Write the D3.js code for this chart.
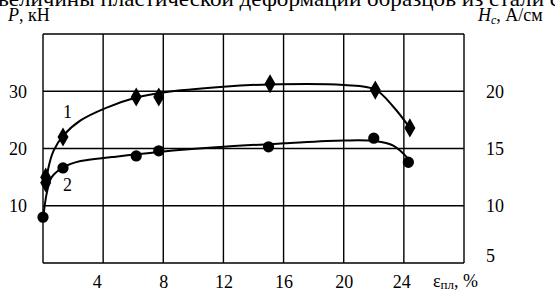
<!DOCTYPE html>
<html>
<head>
<meta charset="utf-8">
<script src="https://cdn.jsdelivr.net/npm/d3@7"></script>
<style>
  body { margin: 0; background: #fff; }
</style>
</head>
<body>
<div id="chart"></div>
<script>
/* DATA */
// strain, %
const xTicks = [4, 8, 12, 16, 20, 24];
const pTicks = [10, 20, 30];
const hTicks = [5, 10, 15, 20];

// curve 1 markers (x = strain %, y = P, kN)
const c1X = [0.18, 0.18, 1.33, 6.2, 7.7, 15.1, 22.1, 24.4];
const c1Y = [15.0, 14.0, 22.0, 29.0, 29.0, 31.3, 30.2, 23.6];
// curve 2 markers
const c2X = [0, 1.33, 6.2, 7.7, 15.0, 22.0, 24.3];
const c2Y = [8.0, 16.6, 18.7, 19.6, 20.3, 21.8, 17.6];

// smooth fitted lines as drawn in the picture
const line1X = [0.2, 0.35, 0.7, 1.33, 2.5, 4.2, 6.2, 8.0, 12, 15.1, 20, 22.1, 23.3, 24.4];
const line1Y = [13.5, 16.5, 19.6, 22.2, 24.9, 27.1, 28.9, 29.8, 30.8, 31.2, 31.1, 30.3, 27.3, 23.6];
const line2X = [0.02, 0.25, 0.58, 1.35, 2.5, 4.6, 7.7, 12, 16, 20, 22.1, 23.3, 24.3];
const line2Y = [8.0, 12.2, 15.0, 16.7, 17.8, 18.5, 19.4, 20.3, 20.9, 21.4, 21.3, 20.5, 18.2];

/* CONSTANTS */
const width = 555, height = 295;
const margin = { top: 34, bottom: 32, left: 43, right: 91 };
const serif = "\"Liberation Serif\"";
const fs = 18;

const svg = d3.select("#chart").append("svg")
  .attr("width", width)
  .attr("height", height)
  .style("display", "block");

const xScale = d3.scaleLinear().domain([0, 28])
  .range([margin.left, width - margin.right]);
const yScale = d3.scaleLinear().domain([0, 40])
  .range([height - margin.bottom, margin.top]);
const hScale = d3.scaleLinear().domain([5, 25])
  .range([height - margin.bottom, margin.top]);

// title line cut off at the top
svg.append("text")
  .attr("x", -2).attr("y", 6)
  .attr("font-size", 21)
  .attr("textLength", 562)
  .attr("lengthAdjust", "spacingAndGlyphs")
  .text("величины пластической деформации образцов из стали с");

// grid
const grid = svg.append("g").attr("stroke", "#000").attr("stroke-width", 1.4);
grid.selectAll("line.v")
  .data(d3.range(0, 29, 4))
  .join("line")
  .attr("class", "v")
  .attr("x1", d => xScale(d)).attr("x2", d => xScale(d))
  .attr("y1", yScale(40)).attr("y2", yScale(0));
grid.selectAll("line.h")
  .data(d3.range(0, 41, 10))
  .join("line")
  .attr("class", "h")
  .attr("x1", xScale(0)).attr("x2", xScale(28))
  .attr("y1", d => yScale(d)).attr("y2", d => yScale(d));

// x tick labels
const xAxis = svg.append("g")
  .attr("transform", `translate(0,${yScale(0)})`)
  .call(d3.axisBottom(xScale).tickValues(xTicks).tickSize(0).tickPadding(12));
xAxis.attr("font-size", fs);
xAxis.select(".domain").remove();
xAxis.selectAll("text").attr("fill", "#000")
  .attr("dx", d => d === 4 ? "-0.35em" : d === 24 ? "-0.15em" : 0);

// left axis labels
const yAxis = svg.append("g")
  .attr("transform", `translate(${xScale(0)},0)`)
  .call(d3.axisLeft(yScale).tickValues(pTicks).tickSize(0).tickPadding(16));
yAxis.attr("font-size", fs);
yAxis.select(".domain").remove();
yAxis.selectAll("text").attr("fill", "#000");

// right axis labels
const hAxis = svg.append("g")
  .attr("transform", `translate(${xScale(28)},0)`)
  .call(d3.axisRight(hScale).tickValues(hTicks).tickSize(0).tickPadding(22));
hAxis.attr("font-size", fs);
hAxis.select(".domain").remove();
hAxis.selectAll("text").attr("fill", "#000")
  .attr("dy", d => d === 5 ? "-0.1em" : "0.32em");

// axis titles
const pTitle = svg.append("text").attr("x", 8).attr("y", 21).attr("font-size", fs);
pTitle.append("tspan").attr("font-style", "italic").text("P");
pTitle.append("tspan").text(", кН");

const hTitle = svg.append("text").attr("x", 478).attr("y", 21).attr("font-size", fs);
hTitle.append("tspan").attr("font-style", "italic").text("H");
hTitle.append("tspan").attr("font-style", "italic").attr("font-size", 12).attr("dy", 3).text("с");
hTitle.append("tspan").attr("dy", -3).text(", А/см");

const xTitle = svg.append("text").attr("x", 433).attr("y", 287).attr("font-size", fs);
xTitle.append("tspan").text("ε");
xTitle.append("tspan").attr("font-size", 13).attr("dy", 2).text("пл");
xTitle.append("tspan").attr("dy", -2).text(", %");

// curves
const lineGen = d3.line()
  .x(d => xScale(d[0]))
  .y(d => yScale(d[1]))
  .curve(d3.curveCatmullRom.alpha(0.5));

svg.append("path")
  .datum(d3.zip(line1X, line1Y))
  .attr("fill", "none").attr("stroke", "#000").attr("stroke-width", 2)
  .attr("d", lineGen);
svg.append("path")
  .datum(d3.zip(line2X, line2Y))
  .attr("fill", "none").attr("stroke", "#000").attr("stroke-width", 2)
  .attr("d", lineGen);

// markers
svg.selectAll("path.m1")
  .data(d3.zip(c1X, c1Y))
  .join("path")
  .attr("class", "m1")
  .attr("transform", d => `translate(${xScale(d[0])},${yScale(d[1])})`)
  .attr("d", d3.symbol(d3.symbolDiamond, 105));
svg.selectAll("path.m2")
  .data(d3.zip(c2X, c2Y))
  .join("path")
  .attr("class", "m2")
  .attr("transform", d => `translate(${xScale(d[0])},${yScale(d[1])})`)
  .attr("d", d3.symbol(d3.symbolCircle, 100));

// curve numbers
svg.append("text").attr("x", 63).attr("y", 118).attr("font-size", fs).text("1");
svg.append("text").attr("x", 63).attr("y", 191).attr("font-size", fs).text("2");

// serif font everywhere
svg.selectAll("text").style("font-family", serif);
</script>
</body>
</html>
